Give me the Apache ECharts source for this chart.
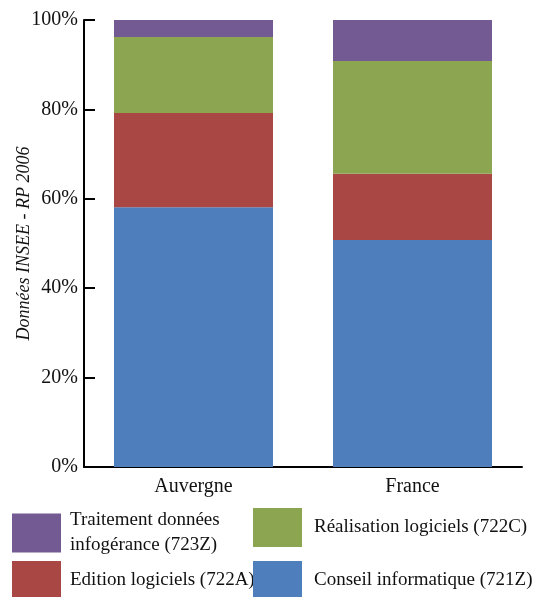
<!DOCTYPE html>
<html>
<head>
<meta charset="utf-8">
<script src="https://cdn.jsdelivr.net/npm/echarts@6/dist/echarts.min.js"></script>
<style>
  html, body { margin: 0; padding: 0; background: #fff; }
  #chart { width: 533px; height: 597px; }
</style>
</head>
<body>
<div id="chart"></div>
<script>
// Répartition des emplois du secteur informatique (parts en %)
var categories = ['Auvergne', 'France'];
var conseil = [58.1, 50.8];       // Conseil informatique (721Z)
var edition = [21.1, 14.8];       // Edition logiciels (722A)
var realisation = [17.0, 25.2];   // Réalisation logiciels (722C)
var traitement = [3.8, 9.2];      // Traitement données infogérance (723Z)
var yTicks = [0, 20, 40, 60, 80, 100];

var seriesNames = [
  'Conseil informatique (721Z)',
  'Edition logiciels (722A)',
  'Réalisation logiciels (722C)',
  'Traitement données\ninfogérance (723Z)'
];
var seriesData = [conseil, edition, realisation, traitement];
var colors = ['#4E7FBC', '#A94745', '#8BA551', '#745A92'];

var font = '"Liberation Serif", "DejaVu Serif", serif';

var chart = echarts.init(document.getElementById('chart'), null, { renderer: 'canvas' });

var series = seriesNames.map(function (name, i) {
  return {
    name: name,
    type: 'bar',
    stack: 'total',
    barWidth: '72.6%',
    data: seriesData[i],
    itemStyle: { color: colors[i] },
    emphasis: { disabled: true }
  };
});

// one legend block per entry, laid out on a 2 x 2 grid
function legendBlock(name, left, top, textGap) {
  return {
    data: [name],
    left: left,
    top: top,
    padding: 0,
    icon: 'rect',
    itemWidth: 49,
    itemHeight: 39,
    itemGap: 0,
    selectedMode: false,
    textStyle: {
      fontFamily: font,
      fontSize: 19,
      color: '#111',
      lineHeight: 25,
      padding: [0, 0, 0, textGap]
    }
  };
}

chart.setOption({
  animation: false,
  backgroundColor: '#fff',
  color: colors,
  grid: { left: 84, right: 11, top: 20, bottom: 130, outerBoundsMode: 'none' },
  xAxis: {
    type: 'category',
    data: categories,
    boundaryGap: true,
    axisLine: { lineStyle: { color: '#000', width: 2 } },
    axisTick: { inside: true, length: 10, lineStyle: { color: '#000', width: 2 } },
    axisLabel: { fontFamily: font, fontSize: 20, color: '#111', margin: 10 }
  },
  yAxis: {
    type: 'value',
    min: yTicks[0],
    max: yTicks[yTicks.length - 1],
    interval: 20,
    name: 'Données INSEE - RP 2006',
    nameLocation: 'middle',
    nameRotate: 90,
    nameGap: 51,
    nameMoveOverlap: false,
    nameTextStyle: { fontFamily: font, fontSize: 18, fontStyle: 'italic', color: '#111' },
    axisLine: { show: true, lineStyle: { color: '#000', width: 2 } },
    axisTick: { show: true, inside: true, length: 11, lineStyle: { color: '#000', width: 2 } },
    splitLine: { show: false },
    axisLabel: { fontFamily: font, fontSize: 20, color: '#111', margin: 6, formatter: '{value}%' }
  },
  legend: [
    legendBlock(seriesNames[3], 12, 508, 4),
    legendBlock(seriesNames[2], 253, 508, 7),
    legendBlock(seriesNames[1], 12, 561, 4),
    legendBlock(seriesNames[0], 253, 561, 7)
  ],
  series: series
});
</script>
</body>
</html>
